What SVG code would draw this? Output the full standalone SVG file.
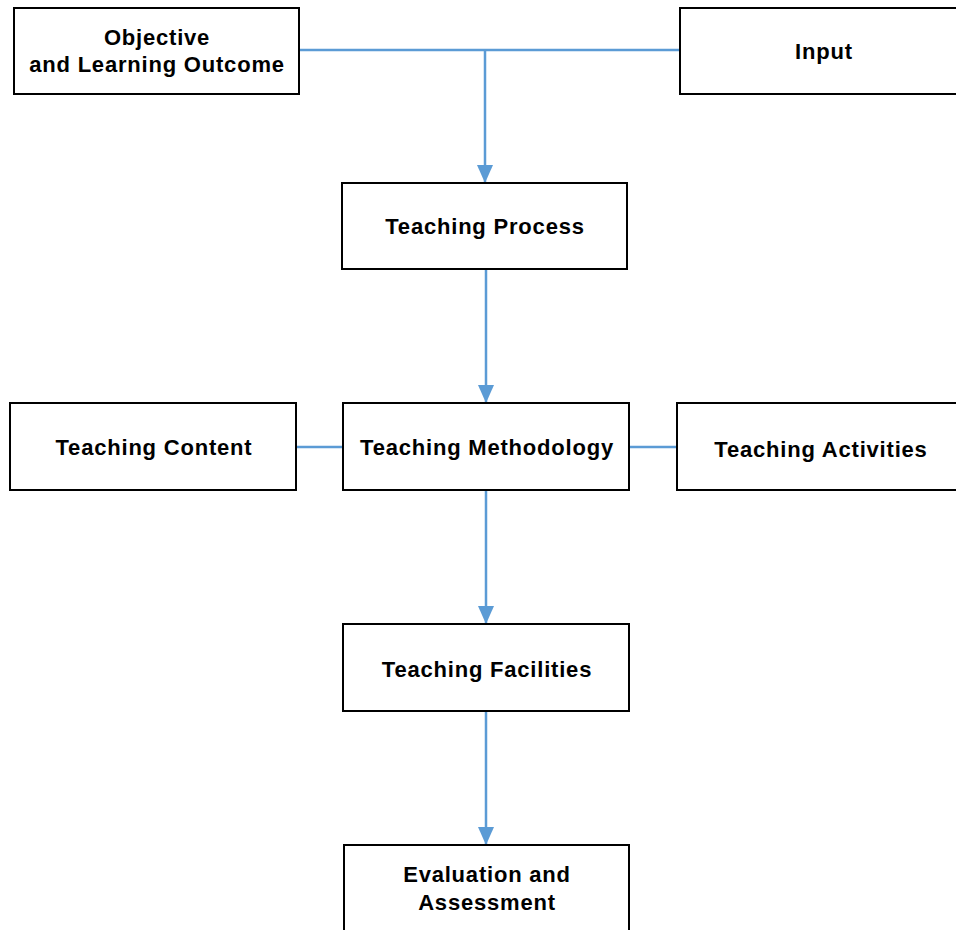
<svg xmlns="http://www.w3.org/2000/svg" width="956" height="930" viewBox="0 0 956 930">
<style>
.box{fill:#fff;stroke:#000;stroke-width:2}
.t{font-family:"Liberation Sans",Arial,sans-serif;font-weight:bold;font-size:22px;letter-spacing:0.8px;text-anchor:middle;fill:#000}
.c{fill:none;stroke:#5B9BD5;stroke-width:2.5}
.a{marker-end:url(#ah)}
</style>
<defs>
<marker id="ah" viewBox="0 0 18 16" refX="18" refY="8" markerWidth="18" markerHeight="16" markerUnits="userSpaceOnUse" orient="auto">
<path d="M0,0 L18,8 L0,16 Z" fill="#5B9BD5"/>
</marker>
</defs>
<rect width="956" height="930" fill="#fff"/>
<g id="connectors">
<line class="c" x1="299" y1="50" x2="680" y2="50"/>
<path class="c a" d="M485,50 V183"/>
<path class="c a" d="M486,269 V403"/>
<line class="c" x1="296" y1="447" x2="343" y2="447"/>
<line class="c" x1="629" y1="447" x2="677" y2="447"/>
<path class="c a" d="M486,490 V624"/>
<path class="c a" d="M486,711 V845"/>
</g>
<g id="objective">
<rect class="box" x="14" y="8" width="285" height="86"/>
<text class="t" x="157" y="45">Objective</text>
<text class="t" x="157" y="72">and Learning Outcome</text>
</g>
<g id="input">
<rect class="box" x="680" y="8" width="290" height="86"/>
<text class="t" x="824" y="59">Input</text>
</g>
<g id="process">
<rect class="box" x="342" y="183" width="285" height="86"/>
<text class="t" x="485" y="234">Teaching Process</text>
</g>
<g id="content">
<rect class="box" x="10" y="403" width="286" height="87"/>
<text class="t" x="154" y="455">Teaching Content</text>
</g>
<g id="methodology">
<rect class="box" x="343" y="403" width="286" height="87"/>
<text class="t" x="487" y="455">Teaching Methodology</text>
</g>
<g id="activities">
<rect class="box" x="677" y="403" width="290" height="87"/>
<text class="t" x="821" y="457">Teaching Activities</text>
</g>
<g id="facilities">
<rect class="box" x="343" y="624" width="286" height="87"/>
<text class="t" x="487" y="677">Teaching Facilities</text>
</g>
<g id="evaluation">
<rect class="box" x="344" y="845" width="285" height="100"/>
<text class="t" x="487" y="882">Evaluation and</text>
<text class="t" x="487" y="910">Assessment</text>
</g>
</svg>
